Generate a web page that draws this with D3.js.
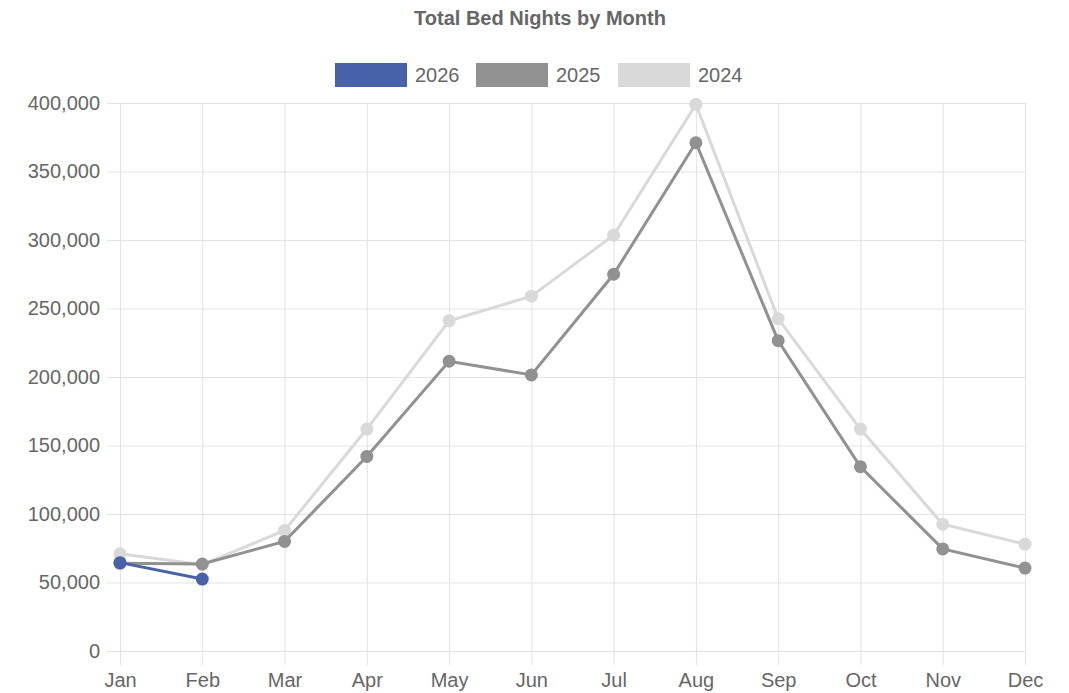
<!DOCTYPE html>
<html>
<head>
<meta charset="utf-8">
<script src="https://cdn.jsdelivr.net/npm/d3@7"></script>
<style>
  body { margin: 0; background: #fff; }
  svg { font-family: "Liberation Sans", Arial, sans-serif; }
</style>
</head>
<body>
<svg id="chart"></svg>
<script>
const months = ['Jan', 'Feb', 'Mar', 'Apr', 'May', 'Jun', 'Jul', 'Aug', 'Sep', 'Oct', 'Nov', 'Dec'];
const values2026 = [64500, 52500];
const values2025 = [64000, 63500, 80000, 142000, 211500, 201500, 275000, 371000, 226500, 134500, 74500, 60500];
const values2024 = [71000, 63000, 88000, 162000, 241000, 259000, 303500, 399000, 242500, 162000, 92500, 78000];
const yTicks = [0, 50000, 100000, 150000, 200000, 250000, 300000, 350000, 400000];

const series = [
    { name: '2026', values: values2026, color: '#4862a9' },
    { name: '2025', values: values2025, color: '#919191' },
    { name: '2024', values: values2024, color: '#d9d9d9' }
];

const width = 1069, height = 693;
const margin = { top: 103, right: 44, bottom: 42, left: 120 };
const fontFamily = '"Liberation Sans", Arial, sans-serif';

const svg = d3.select('#chart')
    .attr('width', width)
    .attr('height', height);

const x = d3.scalePoint()
    .domain(months)
    .range([margin.left, width - margin.right]);

const y = d3.scaleLinear()
    .domain([0, 400000])
    .range([height - margin.bottom, margin.top]);

// Title
svg.append('text')
    .attr('x', 540)
    .attr('y', 25)
    .attr('text-anchor', 'middle')
    .attr('font-size', 20)
    .attr('font-weight', 'bold')
    .attr('fill', '#666')
    .text('Total Bed Nights by Month');

// Legend
const legendX = [335, 476, 618];
const legend = svg.append('g');
series.forEach((s, i) => {
    legend.append('rect')
        .attr('x', legendX[i])
        .attr('y', 63)
        .attr('width', 72)
        .attr('height', 24)
        .attr('fill', s.color);
    legend.append('text')
        .attr('x', legendX[i] + 80)
        .attr('y', 82)
        .attr('font-size', 20)
        .attr('fill', '#666')
        .text(s.name);
});

// Horizontal grid lines
svg.append('g')
    .attr('transform', `translate(${width - margin.right},0)`)
    .call(d3.axisLeft(y).tickValues(yTicks).tickSize(width - margin.right - margin.left + 13).tickFormat(''))
    .call(g => g.select('.domain').remove())
    .call(g => g.selectAll('line').attr('stroke', '#e3e3e3'));

// Y labels
svg.append('g')
    .attr('transform', `translate(${margin.left - 13},0)`)
    .call(d3.axisLeft(y).tickValues(yTicks).tickSize(0).tickPadding(7).tickFormat(d3.format(',')))
    .call(g => g.select('.domain').remove())
    .call(g => g.selectAll('text').attr('font-size', 20).attr('fill', '#666').attr('font-family', fontFamily));

// Vertical grid + x labels
svg.append('g')
    .attr('transform', `translate(0,${margin.top})`)
    .call(d3.axisBottom(x).tickSize(height - margin.bottom - margin.top + 14).tickPadding(8))
    .call(g => g.select('.domain').remove())
    .call(g => g.selectAll('line').attr('stroke', '#e3e3e3'))
    .call(g => g.selectAll('text').attr('font-size', 20).attr('fill', '#666').attr('font-family', fontFamily));

// Lines and points (oldest first so newer years sit on top)
const line = d3.line()
    .x((d, i) => x(months[i]))
    .y(d => y(d));

[...series].reverse().forEach(s => {
    svg.append('path')
        .datum(s.values)
        .attr('fill', 'none')
        .attr('stroke', s.color)
        .attr('stroke-width', 3)
        .attr('d', line);
    svg.append('g')
        .selectAll('circle')
        .data(s.values)
        .join('circle')
        .attr('cx', (d, i) => x(months[i]))
        .attr('cy', d => y(d))
        .attr('r', 6.5)
        .attr('fill', s.color);
});
</script>
</body>
</html>
